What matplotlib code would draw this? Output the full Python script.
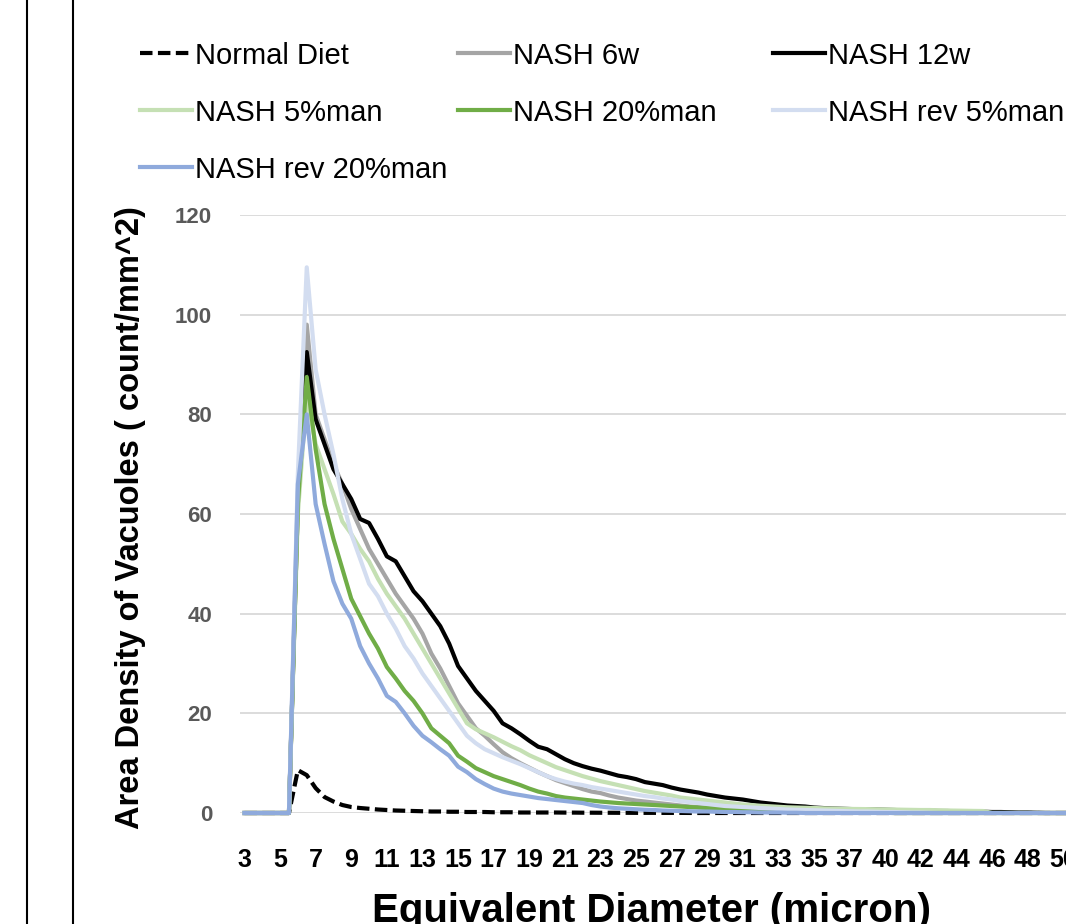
import matplotlib
matplotlib.use("Agg")
import matplotlib.pyplot as plt
from matplotlib.lines import Line2D


# x axis: category axis, one tick label every 4 bins
tick_labels = ["3", "5", "7", "9", "11", "13", "15", "17", "19", "21", "23", "25",
               "27", "29", "31", "33", "35", "37", "40", "42", "44", "46", "48", "50"]
points_per_label = 4

normal_diet = [
    0, 0, 0, 0, 0, 0, 8.6, 7.6, 5.0, 3.2,
    2.3, 1.6, 1.2, 1.0, 0.85, 0.7, 0.6, 0.5, 0.45, 0.4,
    0.35, 0.3, 0.3, 0.25, 0.25, 0.2, 0.2, 0.2, 0.15, 0.15,
    0.15, 0.1, 0.1, 0.1, 0.1, 0.1, 0.08, 0.08, 0.06, 0.06,
    0.05, 0.05, 0.04, 0.04, 0.03, 0.03, 0.03, 0.02, 0.02, 0.02,
    0.01, 0, 0, 0, 0, 0, 0, 0, 0, 0,
    0, 0, 0, 0, 0, 0, 0, 0, 0, 0,
    0, 0, 0, 0, 0, 0, 0, 0, 0, 0,
    0, 0, 0, 0, 0, 0, 0, 0, 0, 0,
    0, 0, 0, 0,
]
nash_6w = [
    0, 0, 0, 0, 0, 0, 64, 98, 80, 75,
    70, 66, 61, 57, 53, 50, 47, 44, 41.5, 39,
    36, 32, 29, 25.5, 22, 19.5, 17, 15.5, 13.8, 12.2,
    11, 10, 9.1, 8.2, 7.4, 6.6, 6.0, 5.4, 4.8, 4.3,
    4.0, 3.5, 3.1, 2.8, 2.5, 2.3, 2.1, 1.9, 1.7, 1.5,
    1.3, 1.2, 1.1, 1.0, 0.9, 0.8, 0.7, 0.65, 0.6, 0.55,
    0.5, 0.45, 0.4, 0.35, 0.3, 0.3, 0.25, 0.2, 0.2, 0.15,
    0.1, 0.1, 0.05, 0, 0, 0, 0, 0, 0, 0,
    0, 0, 0, 0, 0, 0, 0, 0, 0, 0,
    0, 0, 0, 0,
]
nash_12w = [
    0, 0, 0, 0, 0, 0, 62, 92.5, 79, 74,
    69, 66, 63, 59, 58.2, 55, 51.5, 50.5, 47.5, 44.5,
    42.5, 40, 37.5, 34, 29.5, 27, 24.5, 22.5, 20.5, 18,
    17, 15.8, 14.5, 13.3, 12.8, 11.8, 10.8, 10, 9.4, 8.9,
    8.5, 8.0, 7.5, 7.2, 6.8, 6.2, 5.9, 5.6, 5.1, 4.7,
    4.4, 4.1, 3.7, 3.4, 3.1, 2.9, 2.7, 2.4, 2.1, 1.9,
    1.7, 1.5, 1.4, 1.3, 1.1, 1.0, 0.9, 0.85, 0.8, 0.75,
    0.7, 0.7, 0.65, 0.6, 0.55, 0.5, 0.5, 0.45, 0.4, 0.4,
    0.35, 0.3, 0.3, 0.25, 0.2, 0.2, 0.15, 0.1, 0.1, 0.05,
    0, 0, 0, 0,
]
nash_5man = [
    0, 0, 0, 0, 0, 0, 60, 84, 74, 69,
    64, 58.5, 56, 53, 50.5, 47, 44, 41.5, 39, 36,
    33, 30, 27, 24, 21, 18, 16.8, 16, 15.2, 14.3,
    13.4, 12.6, 11.6, 10.8, 10.0, 9.2, 8.6, 8.0, 7.4, 6.9,
    6.4, 6.0, 5.6, 5.2, 4.8, 4.4, 4.1, 3.8, 3.5, 3.1,
    2.9, 2.7, 2.5, 2.3, 2.1, 1.9, 1.7, 1.6, 1.45, 1.35,
    1.25, 1.15, 1.1, 1.05, 1.0, 0.95, 0.9, 0.85, 0.82, 0.8,
    0.78, 0.75, 0.72, 0.7, 0.66, 0.63, 0.6, 0.6, 0.55, 0.5,
    0.48, 0.45, 0.42, 0.4, 0, 0, 0, 0, 0, 0,
    0, 0, 0, 0,
]
nash_20man = [
    0, 0, 0, 0, 0, 0, 62, 87.5, 73, 62,
    55, 49, 43, 39.5, 36, 33, 29.3, 27, 24.5, 22.5,
    20, 17, 15.5, 14, 11.5, 10.3, 9.0, 8.2, 7.4, 6.8,
    6.2, 5.6, 4.9, 4.3, 3.9, 3.4, 3.1, 2.9, 2.7, 2.5,
    2.3, 2.15, 2.0, 1.9, 1.8, 1.7, 1.6, 1.5, 1.4, 1.3,
    1.2, 1.1, 1.0, 0.9, 0.8, 0.75, 0.7, 0.65, 0.6, 0.55,
    0.5, 0.45, 0.4, 0.35, 0.3, 0.3, 0.25, 0.2, 0.2, 0.15,
    0.1, 0.1, 0.05, 0, 0, 0, 0, 0, 0, 0,
    0, 0, 0, 0, 0, 0, 0, 0, 0, 0,
    0, 0, 0, 0,
]
nash_rev_5man = [
    0, 0, 0, 0, 0, 0, 68, 109.5, 89, 80,
    72, 63, 56, 51, 46, 43.5, 40, 37, 33.5, 31,
    28, 25.5, 23, 20.5, 18, 15.5, 14, 12.8, 12, 11.2,
    10.5, 9.8, 9.0, 8.2, 7.4, 6.8, 6.3, 5.9, 5.6, 5.2,
    4.9, 4.6, 4.3, 4.0, 3.7, 3.4, 3.2, 2.9, 2.7, 2.4,
    2.2, 2.0, 1.8, 1.6, 1.4, 1.3, 1.2, 1.1, 1.0, 0.9,
    0.8, 0.7, 0.65, 0.6, 0.55, 0.5, 0.45, 0.4, 0.35, 0.3,
    0.3, 0.25, 0.2, 0.2, 0.15, 0.1, 0.1, 0.05, 0, 0,
    0, 0, 0, 0, 0, 0, 0, 0, 0, 0,
    0, 0, 0, 0,
]
nash_rev_20man = [
    0, 0, 0, 0, 0, 0, 66, 80, 62, 54,
    46.5, 42, 39, 33.5, 30, 27, 23.5, 22.3, 20, 17.5,
    15.5, 14.2, 12.8, 11.5, 9.3, 8.2, 6.8, 5.8, 4.9, 4.3,
    3.9, 3.6, 3.3, 3.0, 2.8, 2.6, 2.4, 2.2, 2.0, 1.6,
    1.3, 1.1, 0.95, 0.85, 0.75, 0.65, 0.6, 0.5, 0.45, 0.4,
    0.35, 0.3, 0.3, 0.25, 0.2, 0.2, 0.15, 0.15, 0.1, 0.1,
    0.1, 0.05, 0.05, 0, 0, 0, 0, 0, 0, 0,
    0, 0, 0, 0, 0, 0, 0, 0, 0, 0,
    0, 0, 0, 0, 0, 0, 0, 0, 0, 0,
    0, 0, 0, 0,
]

series = [
    ("Normal Diet", normal_diet, "#000000", "--"),
    ("NASH 6w", nash_6w, "#a5a5a5", "-"),
    ("NASH 12w", nash_12w, "#000000", "-"),
    ("NASH 5%man", nash_5man, "#c5e0b4", "-"),
    ("NASH 20%man", nash_20man, "#70ad47", "-"),
    ("NASH rev 5%man", nash_rev_5man, "#d3ddf0", "-"),
    ("NASH rev 20%man", nash_rev_20man, "#8faadc", "-"),
]

W, H = 1066, 924
LW = 3.0
DASH = (3.0, 1.3)


def fx(px):
    return px / W


def fy(py):
    return 1 - py / H


fig = plt.figure(figsize=(W / 100, H / 100), dpi=100)
fig.patch.set_facecolor("white")

# page border lines on the left
for xb in (27, 73):
    fig.add_artist(Line2D([fx(xb), fx(xb)], [0, 1], transform=fig.transFigure,
                          color="black", lw=1.5))

# axes: left edge at 240px, y 0 at 813px, y 120 at 215px, 8.9px per bin
ax = fig.add_axes([fx(240), fy(813), 890 / W, (813 - 215) / H])
n_points = len(normal_diet)
xs = list(range(n_points))

for name, values, color, style in series:
    kw = dict(color=color, lw=LW, solid_joinstyle="round", clip_on=False)
    if style == "--":
        kw["dashes"] = DASH
    ax.plot(xs, values, **kw)

ax.set_xlim(-0.5, 99.5)
ax.set_ylim(0, 120)
ax.set_yticks(range(0, 121, 20))
ax.set_xticks([i * points_per_label for i in range(len(tick_labels))])
ax.set_xticklabels(tick_labels)
ax.yaxis.grid(True, color="#d9d9d9", lw=1.3)
ax.set_axisbelow(True)
for sp in ax.spines.values():
    sp.set_visible(False)
ax.tick_params(axis="both", length=0)
ax.tick_params(axis="y", pad=20)
ax.tick_params(axis="x", pad=25)
for lab in ax.get_yticklabels():
    lab.set_fontfamily("Liberation Sans")
    lab.set_fontweight("bold")
    lab.set_fontsize(16)
    lab.set_color("#595959")
for lab in ax.get_xticklabels():
    lab.set_fontfamily("Liberation Sans")
    lab.set_fontweight("bold")
    lab.set_fontsize(18)
    lab.set_color("black")

fig.text(fx(131), fy(518), "Area Density of Vacuoles ( count/mm^2)",
         rotation=90, ha="center", va="center", fontsize=23.5,
         fontweight="bold", family="Liberation Sans")
fig.text(fx(652), fy(892), "Equivalent Diameter (micron)",
         ha="center", va="top", fontsize=29, fontweight="bold",
         family="Liberation Sans")

# legend, laid out row by row as in the original
legend_cols = [140, 458, 773]
legend_rows = [53, 110, 167]
for k, (name, values, color, style) in enumerate(series):
    r, c = divmod(k, 3)
    x0 = legend_cols[c]
    yc = legend_rows[r]
    kw = dict(color=color, lw=LW, transform=fig.transFigure)
    if style == "--":
        kw["dashes"] = DASH
    fig.add_artist(Line2D([fx(x0), fx(x0 + 52)], [fy(yc), fy(yc)], **kw))
    fig.text(fx(x0 + 55), fy(yc + 11), name, ha="left", va="baseline",
             fontsize=21, family="Liberation Sans", color="black")

fig.savefig("out.png", dpi=100)
